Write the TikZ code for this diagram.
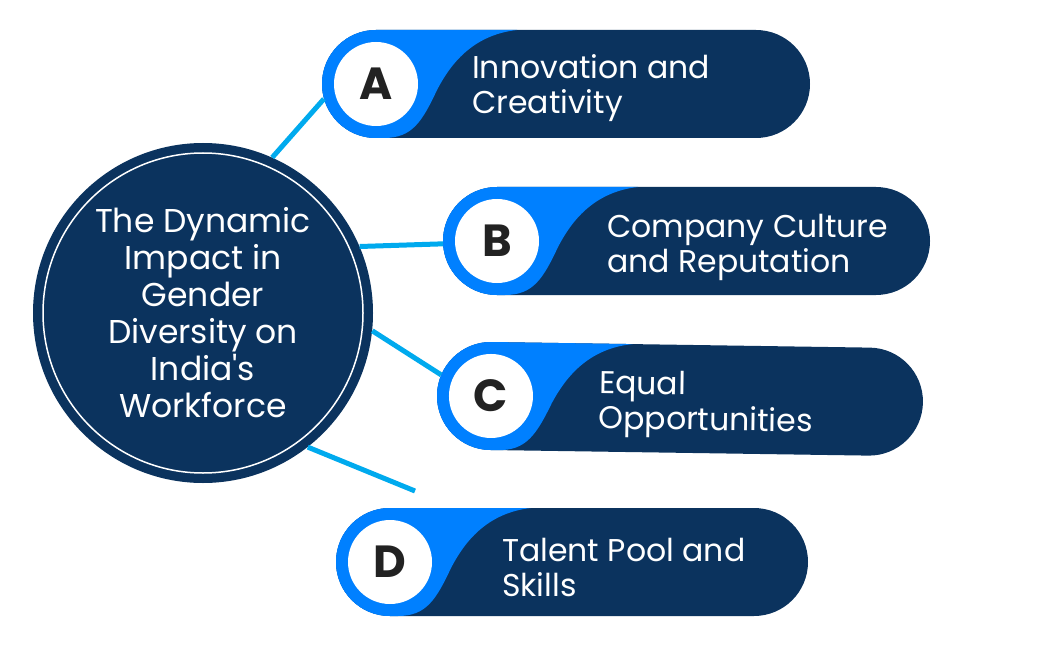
\documentclass[tikz,border=0pt]{standalone}
\usepackage{fontspec}
\setmainfont{Poppins}
\newfontfamily\pop{Poppins}
\definecolor{navy}{RGB}{11,51,94}
\definecolor{bblue}{RGB}{0,128,255}
\definecolor{lblue}{RGB}{0,170,238}
\definecolor{ink}{RGB}{34,34,34}
\tikzset{
  ringnode/.style={circle, fill=bblue, minimum size=108pt, inner sep=0pt},
  letternode/.style={circle, fill=white, minimum size=84pt, inner sep=0pt, text=ink, font=\pop\fontsize{45}{45}\selectfont\bfseries},
  labeltext/.style={text=white, align=left, anchor=west, inner sep=0pt, font=\pop\fontsize{31.5}{35}\selectfont},
  hubtext/.style={text=white, align=center, inner sep=0pt, font=\pop\fontsize{33}{37}\selectfont},
  conn/.style={draw=lblue, line width=5pt},
}
% #1 name, #2 left, #3 top, #4 right, #5 letter
\newcommand{\pillbox}[5]{%
  \fill[navy, rounded corners=54pt] (#2,#3) rectangle (#4,#3+108);
  \begin{scope}
    \clip[rounded corners=54pt] (#2,#3) rectangle (#4,#3+108);
    \fill[bblue] (#2,#3) -- (#2+195,#3) .. controls (#2+150,#3+5) and (#2+128,#3+35) .. (#2+115,#3+60)
      .. controls (#2+100,#3+92) and (#2+90,#3+108) .. (#2+62,#3+108) -- (#2,#3+108) -- cycle;
  \end{scope}
  \node[ringnode] (ring#1) at (#2+54,#3+54) {};
  \node[letternode] (let#1) at (ring#1.center) {#5};
}
\begin{document}
\begin{tikzpicture}[x=1pt,y=-1pt]
\useasboundingbox (0,0) rectangle (1046,647);
\fill[white] (0,0) rectangle (1046,647);

% hub
\node[circle, fill=navy, minimum size=340pt, inner sep=0pt] (hub) at (203,313) {};
\draw[white, line width=1.5pt] (hub.center) circle (160);
\node[hubtext] (hubt) at (203,313) {The Dynamic\\Impact in\\Gender\\Diversity on\\India's\\Workforce};

% pills
\pillbox{A}{322}{30}{810}{A}
\node[labeltext] (tA) at (472,88) {Innovation and\\Creativity};

\pillbox{B}{443}{187}{930}{B}
\node[labeltext] (tB) at (607,247) {Company Culture\\and Reputation};

\begin{scope}[rotate around={-0.85:(491,396)}]
\pillbox{C}{437}{342}{923}{C}
\node[labeltext, rotate=-0.85] (tC) at (599,402) {Equal\\Opportunities};
\end{scope}

\pillbox{D}{336}{508}{808}{D}
\node[labeltext] (tD) at (502,567) {Talent Pool and\\Skills};

% connectors
\coordinate (endD) at (415,491);
\draw[conn] (hub.66) -- (ringA.196);
\draw[conn] (hub.23.9) -- (ringB.183);
\draw[conn] (hub.-6.7) -- (ringC.157.6);
\draw[conn] (hub.-52.5) -- (endD);
\end{tikzpicture}
\end{document}
